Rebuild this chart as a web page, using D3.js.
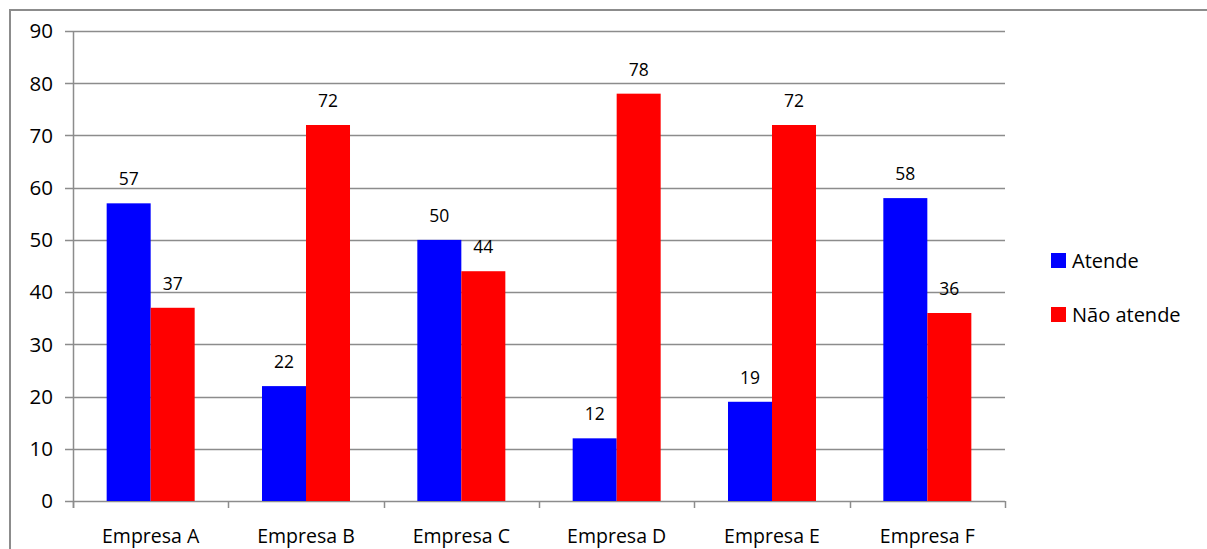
<!DOCTYPE html>
<html>
<head>
<meta charset="utf-8">
<script src="https://cdn.jsdelivr.net/npm/d3@7"></script>
<style>
  html, body { margin: 0; padding: 0; background: #fff; }
  svg { display: block; font-family: "Open Sans", sans-serif; }
</style>
</head>
<body>
<svg id="chart" width="1207" height="549"></svg>
<script>
// Empresas avaliadas e resultado por série
const categories = ["Empresa A", "Empresa B", "Empresa C", "Empresa D", "Empresa E", "Empresa F"];
const seriesNames = ["Atende", "Não atende"];
const atende = [57, 22, 50, 12, 19, 58];
const naoAtende = [37, 72, 44, 78, 72, 36];
const yTicks = [0, 10, 20, 30, 40, 50, 60, 70, 80, 90];
const colors = ["#0000ff", "#ff0000"];

const svg = d3.select("#chart");
const W = 1207, H = 549;

// Chart frame
svg.append("rect")
  .attr("x", 10).attr("y", 10)
  .attr("width", W + 20).attr("height", H + 20)
  .attr("fill", "none").attr("stroke", "#8c8c8c").attr("stroke-width", 2);

const plot = { left: 73, right: 1005, top: 31, bottom: 501 };

const x = d3.scaleBand().domain(categories).range([plot.left, plot.right]).paddingInner(0).paddingOuter(0);
const xs = d3.scaleBand().domain(seriesNames).range([0, x.bandwidth()]).paddingInner(0).paddingOuter(0.765);
const y = d3.scaleLinear().domain([0, 90]).range([plot.bottom, plot.top]);

// Horizontal gridlines
svg.append("g").selectAll("line").data(yTicks).join("line")
  .attr("x1", plot.left - 8).attr("x2", plot.right)
  .attr("y1", d => Math.round(y(d)) + 0.5).attr("y2", d => Math.round(y(d)) + 0.5)
  .attr("stroke", "#8c8c8c").attr("stroke-width", 1.5);

// Y axis labels
svg.append("g").selectAll("text").data(yTicks).join("text")
  .attr("x", 53).attr("y", d => y(d))
  .attr("dy", "0.36em")
  .attr("text-anchor", "end")
  .attr("font-size", 20.5).attr("fill", "#000")
  .text(d => d);

// Bars
const rows = categories.map((c, i) => ({ cat: c, vals: [atende[i], naoAtende[i]] }));
const groups = svg.append("g").selectAll("g").data(rows).join("g")
  .attr("transform", d => `translate(${x(d.cat)},0)`);

groups.selectAll("rect").data(d => d.vals.map((v, j) => ({ s: seriesNames[j], v, j }))).join("rect")
  .attr("x", d => xs(d.s)).attr("width", xs.bandwidth())
  .attr("y", d => y(d.v)).attr("height", d => y(0) - y(d.v))
  .attr("fill", d => colors[d.j]);

// Value labels
groups.selectAll("text").data(d => d.vals.map((v, j) => ({ s: seriesNames[j], v, j }))).join("text")
  .attr("x", d => xs(d.s) + xs.bandwidth() / 2)
  .attr("y", d => y(d.v) - 18)
  .attr("text-anchor", "middle")
  .attr("font-size", 17.5).attr("fill", "#000")
  .text(d => d.v);

// Axes lines
svg.append("line")
  .attr("x1", plot.left + 0.5).attr("x2", plot.left + 0.5)
  .attr("y1", plot.top).attr("y2", plot.bottom + 7)
  .attr("stroke", "#8c8c8c").attr("stroke-width", 1.5);

const xTickPos = d3.range(categories.length + 1).map(i => plot.left + i * x.bandwidth());
svg.append("g").selectAll("line").data(xTickPos).join("line")
  .attr("x1", d => Math.round(d) + 0.5).attr("x2", d => Math.round(d) + 0.5)
  .attr("y1", plot.bottom).attr("y2", plot.bottom + 7)
  .attr("stroke", "#8c8c8c").attr("stroke-width", 1.5);

// Category labels
svg.append("g").selectAll("text").data(categories).join("text")
  .attr("x", d => x(d) + x.bandwidth() / 2)
  .attr("y", 543)
  .attr("text-anchor", "middle")
  .attr("font-size", 19.5).attr("fill", "#000")
  .text(d => d);

// Legend
const legend = svg.append("g").selectAll("g").data(seriesNames).join("g")
  .attr("transform", (d, i) => `translate(1051,${253 + i * 54})`);
legend.append("rect").attr("width", 15).attr("height", 15).attr("fill", (d, i) => colors[i]);
legend.append("text").attr("x", 21).attr("y", 14.5)
  .attr("font-size", 20).attr("fill", "#000").text(d => d);
</script>
</body>
</html>
